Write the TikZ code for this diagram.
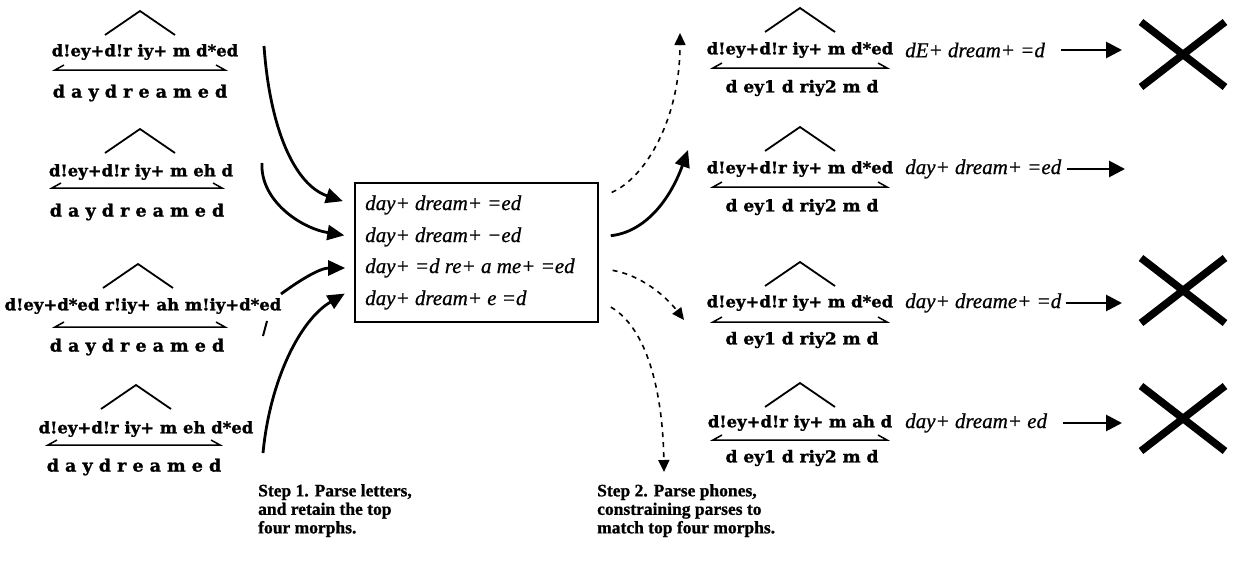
\documentclass[tikz,border=0pt]{standalone}
\usepackage{fontspec}
\setmainfont{Liberation Serif}[BoldFeatures={FakeBold=1}, ItalicFeatures={FakeBold=0.7}]
\newfontfamily\phonfont{DejaVu Serif}[FakeStretch=1.03, BoldFeatures={FakeBold=1.4}]
\usetikzlibrary{arrows.meta,calc}
\begin{document}
\begin{tikzpicture}[x=1pt,y=-1pt,
  phon/.style={inner sep=0pt, font=\phonfont\bfseries\fontsize{16}{18}\selectfont},
  spell/.style={inner sep=0pt, font=\phonfont\bfseries\fontsize{17}{18}\selectfont},
  phones/.style={inner sep=0pt, font=\phonfont\bfseries\fontsize{16.5}{18}\selectfont},
  morph/.style={inner sep=0pt, anchor=west, font=\itshape\fontsize{21}{24}\selectfont},
  caption/.style={inner sep=0pt, anchor=north west, align=left, font=\bfseries\fontsize{17.5}{18.5}\selectfont},
  caret/.style={line width=1.8pt},
  harp/.style={line width=1.5pt},
  flow/.style={line width=2.8pt, -{Triangle[length=17pt,width=15pt]}},
  dflow/.style={line width=1.6pt, dash pattern=on 5pt off 5pt, -{Triangle[length=12pt,width=11pt]}},
  outarrow/.style={line width=2.8pt, -{Triangle[length=16pt,width=16pt]}},
  cross/.style={line width=7.5pt}
]
\useasboundingbox (0,0) rectangle (1237,573);

% caret over a parse, and the double harpoon under it
\newcommand\caretmark[2]{\draw[caret] ({#1-35},{#2+24}) -- (#1,#2) -- ({#1+35},{#2+24});}
\newcommand\harpline[3]{\draw[harp] ({#1+9},{#3-5}) -- (#1,#3) -- (#2,#3) -- ({#2-9},{#3-5});}

% ---- step 1: letter parses ----
\caretmark{140}{11}
\node[phon] (l1) at (145,52) {d!ey+d!r iy+ m d*ed};
\harpline{55}{225}{70}
\node[spell] (w1) at (140,93) {d a y d r e a m e d};

\caretmark{140}{129}
\node[phon] (l2) at (141,172) {d!ey+d!r iy+ m eh d};
\harpline{52}{222}{188}
\node[spell] (w2) at (137,212) {d a y d r e a m e d};

\caretmark{138}{264}
\node[phon] (l3) at (143,306) {d!ey+d*ed r!iy+ ah m!iy+d*ed};
\harpline{55}{225}{327}
\node[spell] (w3) at (137,347) {d a y d r e a m e d};

\caretmark{136}{385}
\node[phon] (l4) at (146,429) {d!ey+d!r iy+ m eh d*ed};
\harpline{48}{220}{445}
\node[spell] (w4) at (134,467) {d a y d r e a m e d};

% ---- the four retained morph sequences ----
\node[draw, line width=1.6pt, minimum width=243pt, minimum height=139pt, inner sep=0pt] (box) at (476.5,252.5) {};
\node[morph] (b1) at (365,205) {day+ dream+ =ed};
\node[morph] (b2) at (365,237) {day+ dream+ −ed};
\node[morph] (b3) at (365,268) {day+ =d re+ a me+ =ed};
\node[morph] (b4) at (365,300) {day+ dream+ e =d};

\coordinate (s1) at (264,46);
\coordinate (s2) at (262,163);
\coordinate (s3) at (281,294);
\coordinate (s4) at (263,453);
\draw[flow, shorten >=12pt] (s1) .. controls (270,130) and (295,185) .. (box.west |- b1);
\draw[flow, shorten >=10pt] (s2) .. controls (260,200) and (300,228) .. (box.west |- b2);
\draw[flow, shorten >=9pt] (s3) .. controls (300,280) and (320,268) .. (box.west |- b3);
\draw[flow, shorten >=11pt] (s4) .. controls (270,380) and (300,320) .. ($(box.west |- b4)+(0,-12)$);
\draw[line width=2pt] (267,321) -- (263,336);

% ---- step 2: phone parses ----
\coordinate (a1) at (680,33);
\coordinate (a2) at (688,150);
\coordinate (a3) at (684,320);
\coordinate (a4) at (664,472);
\draw[dflow, shorten <=14pt] ($(box.east |- b1)+(0,-7)$) .. controls (645,178) and (680,120) .. (a1);
\draw[flow, shorten <=12pt] (box.east |- b2) .. controls (645,232) and (670,200) .. (a2);
\draw[dflow, shorten <=14pt] (box.east |- b3) .. controls (640,275) and (665,295) .. (a3);
\draw[dflow, shorten <=14pt] (box.east |- b4) .. controls (650,330) and (663,400) .. (a4);

\caretmark{800}{8}
\node[phon] (r1) at (800,50) {d!ey+d!r iy+ m d*ed};
\harpline{713}{887}{68}
\node[phones] (p1) at (802,88) {d ey1 d riy2 m d};
\node[morph] (m1) at (905,50) {dE+ dream+ =d};
\coordinate (e1) at (1122,50);
\draw[outarrow, shorten <=16pt] (m1.east) -- (e1);
\draw[cross] (1141,22) -- (1225,87) (1141,87) -- (1225,22);

\caretmark{800}{127}
\node[phon] (r2) at (800,169) {d!ey+d!r iy+ m d*ed};
\harpline{713}{887}{187}
\node[phones] (p2) at (802,207) {d ey1 d riy2 m d};
\node[morph] (m2) at (905,169) {day+ dream+ =ed};
\coordinate (e2) at (1125,169);
\draw[outarrow, shorten <=6pt] (m2.east) -- (e2);

\caretmark{800}{262}
\node[phon] (r3) at (800,303) {d!ey+d!r iy+ m d*ed};
\harpline{713}{887}{322}
\node[phones] (p3) at (802,340) {d ey1 d riy2 m d};
\node[morph] (m3) at (905,303) {day+ dreame+ =d};
\coordinate (e3) at (1122,303);
\draw[outarrow, shorten <=5pt] (m3.east) -- (e3);
\draw[cross] (1141,258) -- (1225,323) (1141,323) -- (1225,258);

\caretmark{800}{383}
\node[phon] (r4) at (800,423) {d!ey+d!r iy+ m ah d};
\harpline{713}{887}{440}
\node[phones] (p4) at (802,458) {d ey1 d riy2 m d};
\node[morph] (m4) at (905,423) {day+ dream+ ed};
\coordinate (e4) at (1122,423);
\draw[outarrow, shorten <=16pt] (m4.east) -- (e4);
\draw[cross] (1141,386) -- (1225,451) (1141,451) -- (1225,386);

% ---- captions ----
\node[caption] (c1) at (258,484) {Step 1. Parse letters,\\and retain the top\\four morphs.};
\node[caption] (c2) at (597,484) {Step 2. Parse phones,\\constraining parses to\\match top four morphs.};
\end{tikzpicture}
\end{document}
